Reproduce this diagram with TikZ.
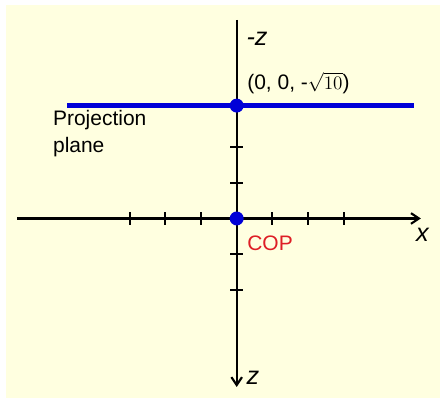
\documentclass[tikz,border=0pt]{standalone}
\usepackage{fontspec}
\setmainfont{Liberation Sans}
\usetikzlibrary{arrows.meta}
\definecolor{paper}{RGB}{255,255,224}
\definecolor{planeblue}{RGB}{0,0,215}
\definecolor{copred}{RGB}{222,30,38}

\begin{document}
\begin{tikzpicture}[x=0.945cm,y=0.945cm,font=\fontsize{15.8}{20.5}\selectfont,
  axis/.style={line width=1.6pt,-{Straight Barb[length=6pt,width=8pt]}},
  tick/.style={line width=1.6pt},
  dot/.style={circle,fill=planeblue,inner sep=0pt,minimum size=10.5pt},
  axislabel/.style={font=\fontsize{19}{22}\selectfont\itshape,inner sep=0pt}]
  \useasboundingbox (-6.63,-5.03) rectangle (5.695,6.12);
  \fill[paper] (-6.46,-5.03) rectangle (5.695,5.98);

  % Axes
  \coordinate (xl) at (-6.15,0);
  \coordinate (xr) at (5.16,0);
  \coordinate (zt) at (0,5.56);
  \coordinate (zb) at (0,-4.72);
  \draw[axis] (xl) -- (xr);
  \draw[axis] (zt) -- (zb);

  % Ticks
  \foreach \t in {-3,-2,-1,1,2,3}
    \draw[tick] (\t,-0.18) -- (\t,0.18);
  \foreach \t in {-2,-1,1,2}
    \draw[tick] (-0.18,\t) -- (0.18,\t);

  % Projection plane
  \coordinate (pl) at (-4.75,3.162);
  \coordinate (pr) at (4.97,3.162);
  \draw[planeblue, line width=3.2pt] (pl) -- (pr);
  \node[dot] (vp) at (0,3.162) {};
  \node[dot] (cop) at (0,0) {};

  % Labels
  \node[axislabel,anchor=west] (mz) at (0.27,5.04) {-z};
  \node[axislabel] (xlab) at (5.2,-0.47) {x};
  \node[axislabel,anchor=west] (zlab) at (0.27,-4.47) {z};
  \node[anchor=west,inner sep=0pt] (vplab) at (0.29,3.8) {(0, 0, -$\sqrt{10}$)};
  \node[anchor=west,inner sep=0pt,text=copred] (coplab) at (0.29,-0.69) {COP};
  \node[anchor=west,inner sep=0pt,align=left] (planelab) at (-5.15,2.37) {Projection\\plane};
\end{tikzpicture}
\end{document}
